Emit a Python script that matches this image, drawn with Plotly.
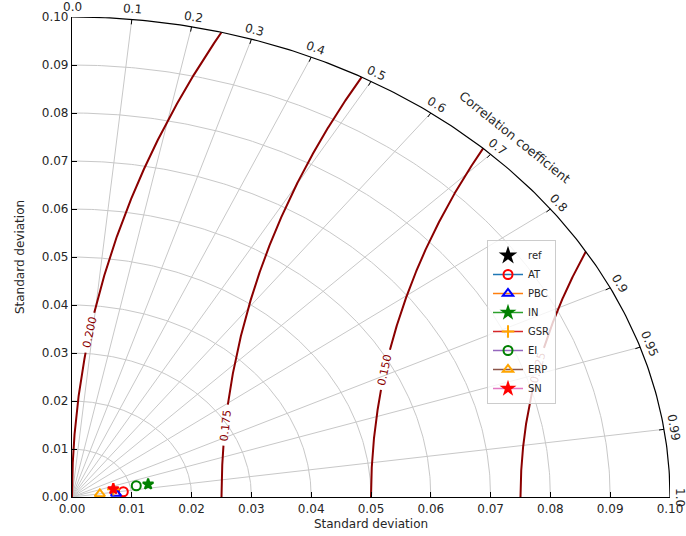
import numpy as np
import plotly.graph_objects as go

# ---------------- data ----------------
ref_name = "ref"
ref_std = 0.20
ref_corr = 1.0

model_names = ["AT", "PBC", "IN", "GSR", "EI", "ERP", "SN"]
model_std = [0.00865, 0.0074, 0.0130, 0.0071, 0.0110, 0.0047, 0.0071]
model_corr = [0.992, 0.995, 0.979, 0.974, 0.977, 0.991, 0.972]

corr_ticks = [0.0, 0.1, 0.2, 0.3, 0.4, 0.5, 0.6, 0.7, 0.8, 0.9, 0.95, 0.99, 1.0]
corr_tick_labels = ["0.0", "0.1", "0.2", "0.3", "0.4", "0.5", "0.6", "0.7", "0.8", "0.9", "0.95", "0.99", "1.0"]
std_ticks = [0.00, 0.01, 0.02, 0.03, 0.04, 0.05, 0.06, 0.07, 0.08, 0.09, 0.10]
std_tick_labels = ["0.00", "0.01", "0.02", "0.03", "0.04", "0.05", "0.06", "0.07", "0.08", "0.09", "0.10"]
rms_levels = [0.125, 0.150, 0.175, 0.200]
rms_labels = ["0.125", "0.150", "0.175", "0.200"]
rms_label_y = [0.027, 0.0265, 0.015, 0.0343]

# ---------------- style ----------------
W, H = 686, 536
ML, MR, MT, MB = 72, 16, 17, 39
PW, PH = W - ML - MR, H - MT - MB
SMAX = 0.10
SX, SY = PW / SMAX, PH / SMAX  # pixels per unit

marker_colors = ["red", "blue", "green", "orange", "green", "orange", "red"]
line_colors = ["#1f77b4", "#ff7f0e", "#2ca02c", "#d62728", "#9467bd", "#8c564b", "#e377c2"]
marker_symbols = ["circle-open", "triangle-up-open", "star", "cross-thin-open",
                  "circle-open", "triangle-up-open", "star"]
marker_sizes = [9, 9, 8, 9, 9, 9, 8]
FONT = "DejaVu Sans"
TXT = "#262626"
GRID = "#c8c8c8"
CONT = "#8b0000"

fig = go.Figure()

# grid: std arcs
th = np.linspace(0, np.pi / 2, 200)
gx, gy = [], []
for s in std_ticks[1:-1]:
    gx += list(s * np.cos(th)) + [None]
    gy += list(s * np.sin(th)) + [None]
# grid: correlation rays
for c in corr_ticks[1:-1]:
    t = np.arccos(c)
    gx += [0, SMAX * np.cos(t), None]
    gy += [0, SMAX * np.sin(t), None]
fig.add_trace(go.Scatter(x=gx, y=gy, mode="lines", line=dict(color=GRID, width=1),
                         hoverinfo="skip", showlegend=False))

# RMS contours centred on the reference point
annotations = []
for L, lab, ylab in zip(rms_levels, rms_labels, rms_label_y):
    xi = (ref_std ** 2 + SMAX ** 2 - L ** 2) / (2 * ref_std)
    yi = np.sqrt(max(SMAX ** 2 - xi ** 2, 0))
    phimax = np.arctan2(yi, ref_std - xi)
    phi = np.linspace(0, phimax, 600)
    cx = ref_std - L * np.cos(phi)
    cy = L * np.sin(phi)
    philab = np.arcsin(ylab / L)
    lx, ly = ref_std - L * np.cos(philab), ylab
    d = np.hypot((cx - lx) * SX, (cy - ly) * SY)
    cxl = [None if dd < 20 else v for v, dd in zip(cx, d)]
    cyl = [None if dd < 20 else v for v, dd in zip(cy, d)]
    fig.add_trace(go.Scatter(x=cxl, y=cyl, mode="lines", line=dict(color=CONT, width=2),
                             connectgaps=False, hoverinfo="skip", showlegend=False))
    ang = np.degrees(np.arctan2(SY * np.cos(philab), SX * np.sin(philab)))
    col = CONT if L != 0.125 else "rgba(139,0,0,0.18)"
    annotations.append(dict(x=lx, y=ly, xref="x", yref="y", text=lab, showarrow=False,
                            textangle=-ang, font=dict(family=FONT, size=11, color=col),
                            xanchor="center", yanchor="middle"))

# outer arc
fig.add_trace(go.Scatter(x=SMAX * np.cos(th), y=SMAX * np.sin(th), mode="lines",
                         line=dict(color="black", width=1.2), hoverinfo="skip", showlegend=False))
# ticks on the arc
tx, ty = [], []
for c in corr_ticks[1:-1]:
    t = np.arccos(c)
    ux, uy = np.cos(t), np.sin(t)
    tx += [SMAX * ux, SMAX * ux - 5 * ux / SX, None]
    ty += [SMAX * uy, SMAX * uy - 5 * uy / SY, None]
fig.add_trace(go.Scatter(x=tx, y=ty, mode="lines", line=dict(color="black", width=1),
                         hoverinfo="skip", showlegend=False))

# correlation labels
for c, lab in zip(corr_ticks, corr_tick_labels):
    t = np.arccos(c)
    ux, uy = np.cos(t), np.sin(t)
    ang = np.degrees(np.arctan2(SY * np.cos(t), SX * np.sin(t)))
    annotations.append(dict(x=SMAX * ux, y=SMAX * uy, xref="x", yref="y", text=lab,
                            showarrow=False, xshift=10 * ux, yshift=10 * uy, textangle=ang,
                            font=dict(family=FONT, size=12, color=TXT),
                            xanchor="center", yanchor="middle"))
tcc = np.radians(45)
annotations.append(dict(x=SMAX * np.cos(tcc), y=SMAX * np.sin(tcc), xref="x", yref="y",
                        text="Correlation coefficient", showarrow=False,
                        xshift=29 * np.cos(tcc), yshift=29 * np.sin(tcc),
                        textangle=np.degrees(np.arctan2(SY * np.cos(tcc), SX * np.sin(tcc))),
                        font=dict(family=FONT, size=12.5, color=TXT),
                        xanchor="center", yanchor="middle"))

# reference point
fig.add_trace(go.Scatter(x=[ref_std * ref_corr], y=[ref_std * np.sqrt(1 - ref_corr ** 2)],
                         mode="markers", name=ref_name,
                         marker=dict(symbol="star", size=14, color="black"),
                         cliponaxis=True))
# models
for i, n in enumerate(model_names):
    s, c = model_std[i], model_corr[i]
    fig.add_trace(go.Scatter(
        x=[s * c], y=[s * np.sqrt(1 - c ** 2)], mode="lines+markers", name=n,
        line=dict(color=line_colors[i], width=1.5),
        marker=dict(symbol=marker_symbols[i], size=marker_sizes[i], color=marker_colors[i],
                    line=dict(color=marker_colors[i], width=2)),
        cliponaxis=False))

axis_common = dict(range=[0, SMAX], tickvals=std_ticks, showgrid=False, zeroline=False,
                   showline=True, linecolor="black", linewidth=1.2, ticks="inside",
                   ticklen=5, tickcolor="black", tickfont=dict(family=FONT, size=12, color=TXT),
                   fixedrange=True, automargin=False)
fig.update_layout(
    width=W, height=H, margin=dict(l=ML, r=MR, t=MT, b=MB, autoexpand=False),
    paper_bgcolor="white", plot_bgcolor="white",
    xaxis=dict(**axis_common, ticktext=std_tick_labels,
               title=dict(text="Standard deviation", font=dict(family=FONT, size=12, color=TXT),
                          standoff=5)),
    yaxis=dict(**axis_common, ticktext=std_tick_labels,
               title=dict(text="Standard deviation", font=dict(family=FONT, size=12, color=TXT),
                          standoff=14)),
    legend=dict(x=(487 - ML) / PW, y=(497 - 240) / PH, xanchor="left", yanchor="top",
                bgcolor="rgba(255,255,255,0.8)", bordercolor="#cccccc", borderwidth=1,
                font=dict(family=FONT, size=10, color=TXT), tracegroupgap=0,
                itemwidth=30),
    annotations=annotations,
    showlegend=True,
)
fig.write_html("out.html", config={"displayModeBar": False},
               post_script="document.body.style.margin='0px';")
